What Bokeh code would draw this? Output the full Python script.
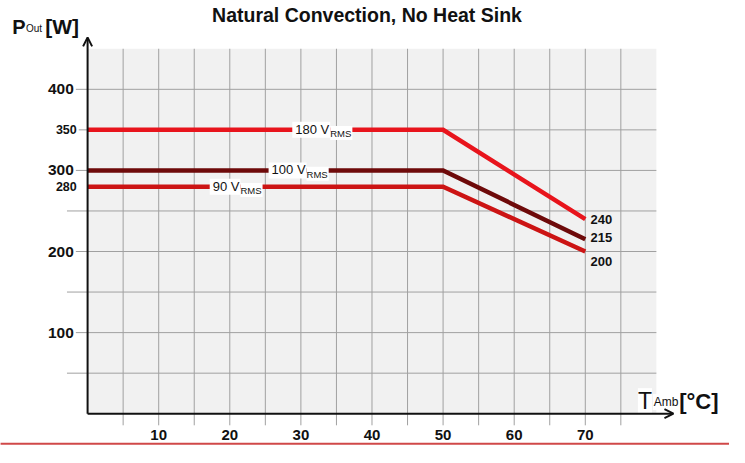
from bokeh.plotting import figure
from bokeh.models import Range1d, Arrow, OpenHead
from bokeh.core.properties import value
from bokeh.embed import file_html
from bokeh.resources import INLINE

# ---------------- data ----------------
temp_c = [0, 50, 70]
pout_180 = [350, 350, 240]
pout_100 = [300, 300, 215]
pout_90 = [280, 280, 200]
series_volts = ["180", "100", "90"]
series_colors = ["#e8141c", "#6e0a0a", "#cc1414"]

x_tick_labels = [10, 20, 30, 40, 50, 60, 70]
y_tick_big = [400, 300, 200, 100]
y_tick_small = [350, 280]
x_grid = [5, 10, 15, 20, 25, 30, 35, 40, 45, 50, 55, 60, 65, 70, 75]
y_grid = [50, 100, 150, 200, 250, 300, 350, 400]
x_max = 80
y_max = 450

FONT = value("Liberation Sans")
INK = "#111111"

# canvas 729 x 447 px; ranges chosen so the frame is the whole canvas
p = figure(width=729, height=447,
           x_range=Range1d(-12.249, 90.283), y_range=Range1d(-41.67, 509.52),
           output_backend="svg", toolbar_location=None,
           x_axis_location=None, y_axis_location=None,
           min_border=0, outline_line_color=None)
p.xgrid.visible = False
p.ygrid.visible = False
p.background_fill_color = "white"
p.border_fill_color = "white"

# plot area background
p.quad(left=0, right=x_max, bottom=0, top=y_max, fill_color="#f1f1f1", line_color=None)

# grid lines (extend a little past the axes as tick marks)
p.segment(x0=x_grid, y0=[-14.3] * len(x_grid), x1=x_grid, y1=[y_max] * len(x_grid),
          line_color="#a0a0a0", line_width=1)
p.segment(x0=[-2.9] * len(y_grid), y0=y_grid, x1=[x_max] * len(y_grid), y1=y_grid,
          line_color="#a0a0a0", line_width=1)

# data lines
for ys, c in zip([pout_180, pout_100, pout_90], series_colors):
    p.line(temp_c, ys, line_color=c, line_width=4.5, line_join="miter")

# axes with arrows
p.add_layout(Arrow(end=OpenHead(size=9, line_width=2, line_color=INK),
                   x_start=0, y_start=0, x_end=0, y_end=464,
                   line_color=INK, line_width=2))
p.add_layout(Arrow(end=OpenHead(size=9, line_width=2, line_color=INK),
                   x_start=0, y_start=0, x_end=82.4, y_end=0,
                   line_color=INK, line_width=2))

# y tick labels
p.text(x=[-1.65] * len(y_tick_big), y=y_tick_big, text=[str(v) for v in y_tick_big],
       text_align="right", text_baseline="middle", text_font=FONT,
       text_font_size="15.5px", text_font_style="bold", text_color=INK,
       background_fill_color="white", padding=2)
p.text(x=[-1.24] * len(y_tick_small), y=y_tick_small, text=[str(v) for v in y_tick_small],
       text_align="right", text_baseline="middle", text_font=FONT,
       text_font_size="12.5px", text_font_style="bold", text_color=INK,
       background_fill_color="white", padding=2)

# x tick labels
p.text(x=x_tick_labels, y=[-26.2] * len(x_tick_labels), text=[str(v) for v in x_tick_labels],
       text_align="center", text_baseline="middle", text_font=FONT,
       text_font_size="15px", text_font_style="bold", text_color=INK)

# series labels on lines
label_x = [34.13, 30.8, 21.5]
plateaus = [pout_180[0], pout_100[0], pout_90[0]]
p.text(x=label_x, y=plateaus, text=[v + " V" for v in series_volts],
       text_align="right", text_baseline="middle", text_font=FONT,
       text_font_size="13px", text_color=INK,
       background_fill_color="white", padding=(3, 1, 0, 1))
p.text(x=label_x, y=[v - 4 for v in plateaus], text=["RMS"] * 3,
       text_align="left", text_baseline="middle", text_font=FONT,
       text_font_size="9.5px", text_color=INK,
       background_fill_color="white", padding=(0, 1, 2, 1))

# end-point labels
ends = [pout_180[-1], pout_100[-1], pout_90[-1]]
shifts = [0, 2, -12]
p.text(x=[70.74] * 3, y=[e + s for e, s in zip(ends, shifts)], text=[str(e) for e in ends],
       text_align="left", text_baseline="middle", text_font=FONT,
       text_font_size="13px", text_font_style="bold", text_color=INK)

# title
p.text(x=[39.3], y=[491.7], text=["Natural Convection, No Heat Sink"],
       text_align="center", text_baseline="middle", text_font=FONT,
       text_font_size="19.5px", text_font_style="bold", text_color=INK)

# y axis title  P_Out [W]
p.text(x=[-10.6], y=[477.4], text=["P"], text_align="left", text_baseline="alphabetic",
       text_font=FONT, text_font_size="20px", text_font_style="bold", text_color=INK)
p.text(x=[-8.67], y=[475.0], text=["Out"], text_align="left", text_baseline="alphabetic",
       text_font=FONT, text_font_size="10px", text_color=INK)
p.text(x=[-5.95], y=[477.4], text=["[W]"], text_align="left", text_baseline="alphabetic",
       text_font=FONT, text_font_size="21px", text_font_style="bold", text_color=INK)

# x axis title  T_Amb [°C]
p.text(x=[79.5], y=[14.3], text=["Amb"], text_align="left", text_baseline="alphabetic",
       text_font=FONT, text_font_size="12px", text_color=INK,
       background_fill_color="white", padding=1)
p.text(x=[77.4], y=[15.5], text=["T"], text_align="left", text_baseline="alphabetic",
       text_font=FONT, text_font_size="23px", text_color=INK,
       background_fill_color="white", padding=0)
p.text(x=[83.2], y=[15.5], text=["[°C]"], text_align="left", text_baseline="alphabetic",
       text_font=FONT, text_font_size="22px", text_font_style="bold", text_color=INK)

# red rule at bottom
p.segment(x0=[-12.3], y0=[-36.9], x1=[90.3], y1=[-36.9], line_color="#d04848", line_width=2)

open("out.html", "w").write(file_html(p, INLINE))
